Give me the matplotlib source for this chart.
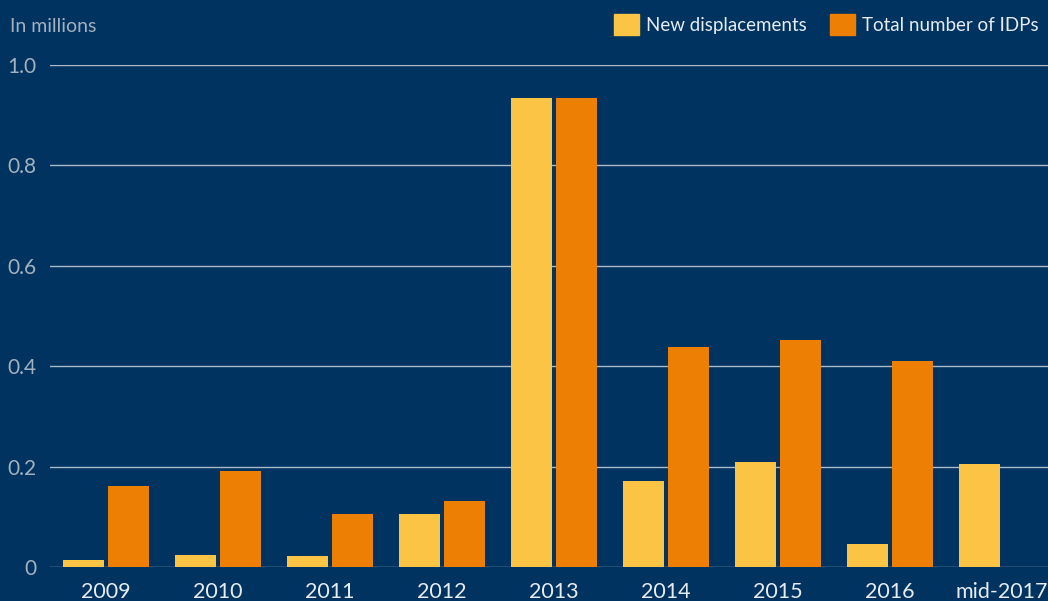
import numpy as np
import matplotlib.pyplot as plt
from matplotlib.patches import Patch

# Data (in millions)
years = ['2009', '2010', '2011', '2012', '2013', '2014', '2015', '2016', 'mid-2017']
new_displacements = [0.014, 0.024, 0.022, 0.106, 0.934, 0.171, 0.209, 0.046, 0.205]
total_idps = [0.161, 0.191, 0.106, 0.131, 0.934, 0.438, 0.452, 0.410, np.nan]
yticks = [0, 0.2, 0.4, 0.6, 0.8, 1.0]
ytick_labels = ['0', '0.2', '0.4', '0.6', '0.8', '1.0']

bg = '#00335F'
yellow = '#FCC444'
orange = '#EE7F05'
grid_c = '#A9BACB'
label_c = '#A3B1BF'
xlabel_c = '#E6ECF2'

plt.rcParams['font.family'] = ['Lato', 'DejaVu Sans']

fig = plt.figure(figsize=(10.48, 6.01), dpi=100, facecolor=bg)
ax = fig.add_axes([50 / 1048, 34 / 601, 998 / 1048, 502 / 601])
ax.set_facecolor(bg)

x = np.arange(len(years))
w = 0.366
ax.bar(x - 0.2, new_displacements, width=w, color=yellow, zorder=3)
ax.bar(x + 0.2, total_idps, width=w, color=orange, zorder=3)

ax.set_xlim(-0.5, 8.41)
ax.set_ylim(0, 1.0)
ax.set_yticks(yticks)
ax.set_yticklabels(ytick_labels)
for y in yticks:
    ax.axhline(y, color=grid_c, lw=1, zorder=1)

ax.set_xticks(x)
ax.set_xticklabels(years)
ax.tick_params(axis='x', length=0, pad=11, labelsize=15.5, colors=xlabel_c)
ax.tick_params(axis='y', length=0, pad=10, labelsize=15, colors=label_c)
for s in ax.spines.values():
    s.set_visible(False)

fig.text(10 / 1048, 1 - 27 / 601, 'In millions', color=label_c, fontsize=14,
         va='center', ha='left')

handles = [Patch(color=yellow, label='New displacements'),
           Patch(color=orange, label='Total number of IDPs')]
leg = fig.legend(handles=handles, loc='upper right',
                 bbox_to_anchor=(1.0, 1 - 5 / 601),
                 ncol=2, frameon=False, fontsize=13.5, handlelength=1.35,
                 handleheight=1.35, handletextpad=0.35, columnspacing=1.25,
                 borderpad=0.2, borderaxespad=0.3)
for t in leg.get_texts():
    t.set_color(xlabel_c)

fig.savefig('out.png', dpi=100, facecolor=bg)
